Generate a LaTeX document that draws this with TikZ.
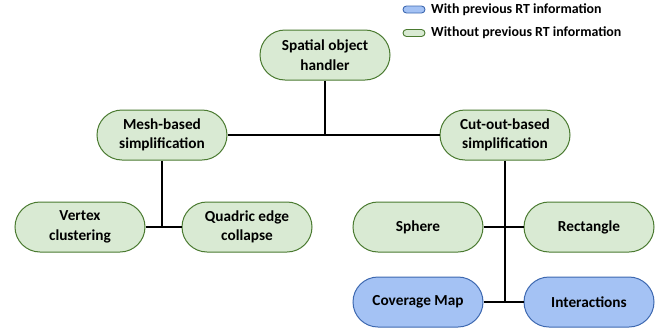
\documentclass[tikz,border=0pt]{standalone}
\usepackage{fontspec}
\setmainfont{Carlito}[BoldFont={Carlito Bold}]
\usetikzlibrary{shapes.misc}
\definecolor{gfill}{HTML}{D9EAD3}
\definecolor{gdraw}{HTML}{4A7A30}
\definecolor{bfill}{HTML}{A4C2F4}
\definecolor{bdraw}{HTML}{3D68B0}
\tikzset{
  pill/.style={rounded rectangle, draw, line width=1pt, minimum width=130pt, minimum height=50pt, inner sep=0pt, align=center, font=\fontsize{15.3}{19.5}\selectfont\bfseries},
  gpill/.style={pill, fill=gfill, draw=gdraw},
  bpill/.style={pill, fill=bfill, draw=bdraw},
  legg/.style={rounded rectangle, draw=gdraw, fill=gfill, line width=0.9pt, minimum width=22pt, minimum height=7pt, inner sep=0pt},
  legb/.style={rounded rectangle, draw=bdraw, fill=bfill, line width=0.9pt, minimum width=22pt, minimum height=7pt, inner sep=0pt},
  legtext/.style={anchor=west, font=\fontsize{13.9}{16}\selectfont\bfseries, inner sep=0pt},
  conn/.style={line width=1.1pt, black}
}
\begin{document}
\begin{tikzpicture}[x=1pt,y=-1pt]
\useasboundingbox (0,0) rectangle (665,330);
% legend
\node[legb] (lb) at (414,9.5) {};
\node[legtext] (lbt) at (431,9.5) {With previous RT information};
\node[legg] (lg) at (414,33) {};
\node[legtext] (lgt) at (431,33) {Without previous RT information};
% nodes
\node[gpill] (root) at (325,55) {Spatial object\\handler};
\node[gpill] (mesh) at (162,135) {Mesh-based\\simplification};
\node[gpill] (cut) at (505,135) {Cut-out-based\\simplification};
\node[gpill] (vert) at (80,227) {Vertex\\clustering};
\node[gpill] (quad) at (247,227) {Quadric edge\\collapse};
\node[gpill] (sph) at (418,227) {Sphere};
\node[gpill] (rect) at (589,227) {Rectangle};
\node[bpill] (cov) at (418,302) {Coverage Map};
\node[bpill] (inter) at (589,302) {Interactions};
% connectors
\coordinate (j0) at (root.south |- mesh.east);
\coordinate (jm) at (mesh.south |- vert.east);
\coordinate (jc2) at (cut.south |- cov.east);
\draw[conn] (root.south) -- (j0);
\draw[conn] (mesh.east) -- (cut.west);
\draw[conn] (mesh.south) -- (jm);
\draw[conn] (vert.east) -- (quad.west);
\draw[conn] (cut.south) -- (jc2);
\draw[conn] (sph.east) -- (rect.west);
\draw[conn] (cov.east) -- (inter.west);
\end{tikzpicture}
\end{document}
